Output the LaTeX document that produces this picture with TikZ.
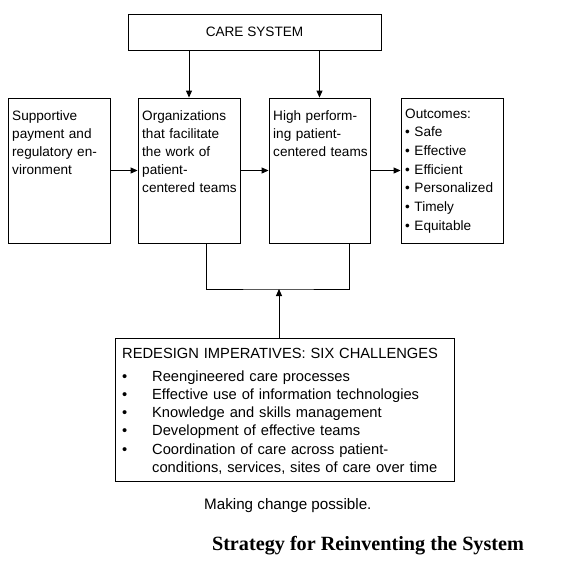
\documentclass[tikz,border=0pt]{standalone}
\usepackage{fontspec}
\setmainfont{Liberation Sans}
\newfontfamily\titlefont{Liberation Serif}
\usetikzlibrary{arrows.meta}

\tikzset{
  box/.style={draw, line width=0.9pt, minimum width=102pt, minimum height=145pt, inner sep=0pt},
  boxtext/.style={anchor=base west, inner sep=0pt, text width=100pt, align=left},
  link/.style={line width=0.9pt, -{Triangle[length=7pt,width=6pt]}},
}

\begin{document}
\begin{tikzpicture}[x=1pt, y=-1pt, font=\fontsize{13.6}{18}\selectfont]
    \useasboundingbox (0,0) rectangle (572,574);
    % top box and the four stages
    \node[box, minimum width=253pt, minimum height=36pt] (care) at (254.5,32) {CARE SYSTEM};
    \node[box] (env) at (59,170.5) {};
    \node[box] (org) at (189,170.5) {};
    \node[box, minimum width=101pt] (team) at (319.5,170.5) {};
    \node[box] (out) at (452,170.5) {};
    \node[boxtext] (envtext) at (12,120.5) {Supportive\\payment and\\regulatory en-\\vironment};
    \node[boxtext] (orgtext) at (142,120.5) {Organizations\\that facilitate\\the work of\\patient-\\centered teams};
    \node[boxtext] (teamtext) at (273,120.5) {High perform-\\ing patient-\\centered teams};
    \node[boxtext, font=\fontsize{13.6}{18.7}\selectfont] (outtext) at (405,118)
        {Outcomes:\\\textbullet{} Safe\\\textbullet{} Effective\\\textbullet{} Efficient\\\textbullet{} Personalized\\\textbullet{} Timely\\\textbullet{} Equitable};
    % redesign box
    \node[box, minimum width=339pt, minimum height=143pt] (redesign) at (284.5,409.5) {};
    \node[boxtext, text width=330pt, font=\fontsize{14.7}{18}\selectfont] (redtitle) at (122,358) {REDESIGN IMPERATIVES: SIX CHALLENGES};
    \node[boxtext, text width=330pt, font=\fontsize{14.7}{18.3}\selectfont] (redlist) at (122,381)
        {\makebox[30pt][l]{\textbullet}Reengineered care processes\\
         \makebox[30pt][l]{\textbullet}Effective use of information technologies\\
         \makebox[30pt][l]{\textbullet}Knowledge and skills management\\
         \makebox[30pt][l]{\textbullet}Development of effective teams\\
         \makebox[30pt][l]{\textbullet}Coordination of care across patient-\\
         \hspace*{30pt}conditions, services, sites of care over time};
    % connectors
    \coordinate (join) at (279,289);
    \draw[link] (care.south -| org.north) -- (org.north);
    \draw[link] (care.south -| team.north) -- (team.north);
    \draw[link] (env) -- (org);
    \draw[link] (org) -- (team);
    \draw[link] (team) -- (out);
    \draw[line width=0.9pt] ([xshift=17.7pt]org.south) |- (join) -| ([xshift=29.5pt]team.south);
    \draw[link] (redesign.north -| join) -- (join);
    % captions
    \node[anchor=base west, inner sep=0pt, font=\fontsize{15.2}{18}\selectfont] (note) at (204,509) {Making change possible.};
    \node[anchor=base, inner sep=0pt, font=\titlefont\bfseries\fontsize{20.2}{24}\selectfont] (title) at (368,550)
        {Strategy for Reinventing the System};
\end{tikzpicture}
\end{document}
